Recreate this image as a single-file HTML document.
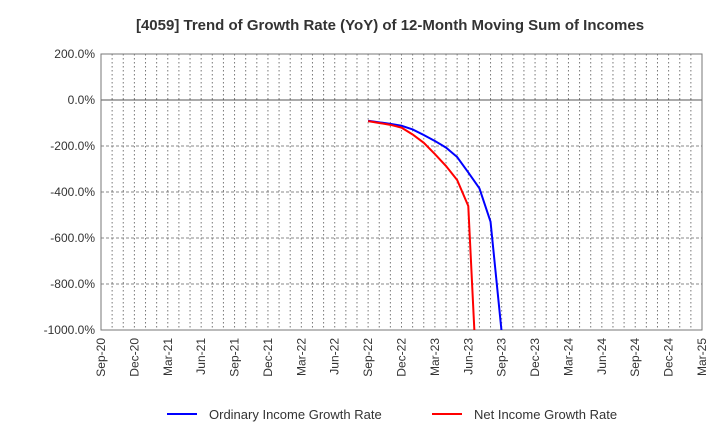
<!DOCTYPE html>
<html><head><meta charset="utf-8"><style>
body{margin:0;background:#fff;font-family:"Liberation Sans",sans-serif}
text{font-family:"Liberation Sans",sans-serif}
</style></head><body>
<svg id="c" width="720" height="440" xmlns="http://www.w3.org/2000/svg">
<text x="390" y="30" text-anchor="middle" font-size="15" font-weight="bold" fill="#333">[4059]  Trend of Growth Rate (YoY) of 12-Month Moving Sum of Incomes</text>
<defs><clipPath id="pc"><rect x="101" y="54" width="601" height="276"/></clipPath></defs>
<g id="grid"></g><g id="axes"></g><g id="series" clip-path="url(#pc)"></g>
<g>
<line x1="167" y1="414" x2="197" y2="414" stroke="#0000ff" stroke-width="2"/>
<text x="209" y="419" font-size="13" fill="#333">Ordinary Income Growth Rate</text>
<line x1="432" y1="414" x2="462" y2="414" stroke="#ff0000" stroke-width="2"/>
<text x="474" y="419" font-size="13" fill="#333">Net Income Growth Rate</text>
</g>
</svg>
<script>
const xTickLabels=["Sep-20","Dec-20","Mar-21","Jun-21","Sep-21","Dec-21","Mar-22","Jun-22","Sep-22","Dec-22","Mar-23","Jun-23","Sep-23","Dec-23","Mar-24","Jun-24","Sep-24","Dec-24","Mar-25"];
const yTicks=[200,0,-200,-400,-600,-800,-1000];
// month index from Sep-20
const ordinaryMonths=[24,25,26,27,28,29,30,31,32,33,34,35,36];
const ordinaryValues=[-90,-97,-104,-112,-128,-152,-178,-207,-248,-315,-384,-529,-1010];
const netMonths=[24,25,26,27,28,29,30,31,32,33,34];
const netValues=[-92,-100,-108,-120,-150,-186,-235,-287,-348,-461,-1450];
const L=101,R=702,T=54,B=330,NM=54;
const xs=m=>L+(R-L)*m/NM, ys=v=>T+(B-T)*(200-v)/1200;
const NS="http://www.w3.org/2000/svg";
function mk(t,a,p){const e=document.createElementNS(NS,t);for(const k in a)e.setAttribute(k,a[k]);p.appendChild(e);return e;}
const g=document.getElementById('grid'),ax=document.getElementById('axes'),s=document.getElementById('series');
for(let m=1;m<NM;m++){const l=mk('line',{x1:xs(m),x2:xs(m),y1:T,y2:B,stroke:'#777','stroke-dasharray':'1.5,2.5'},g);

}
yTicks.forEach(v=>{const y=ys(v);
const l=mk('line',{x1:L,x2:R,y1:y,y2:y,stroke:v===0?'#555':'#888','stroke-dasharray':v===0?'none':'3,2'},g);


const t=mk('text',{x:L-6,y:y+4,'text-anchor':'end','font-size':12,fill:'#333'},ax);t.textContent=v.toFixed(1)+'%';

});
const fr=mk('rect',{x:L,y:T,width:R-L,height:B-T,fill:'none',stroke:'#777'},ax);


xTickLabels.forEach((lb,i)=>{const x=xs(i*3);
const t=mk('text',{transform:`translate(${x+4},${B+8}) rotate(-90)`,'text-anchor':'end','font-size':12,fill:'#333'},ax);t.textContent=lb;

});
function line(ms,vs,c,n){const p=mk('polyline',{points:ms.map((m,i)=>xs(m)+','+ys(vs[i])).join(' '),fill:'none',stroke:c,'stroke-width':2},s);

}
line(ordinaryMonths,ordinaryValues,'#0000ff','ordinary-income-line');
line(netMonths,netValues,'#ff0000','net-income-line');
</script>
</body></html>
